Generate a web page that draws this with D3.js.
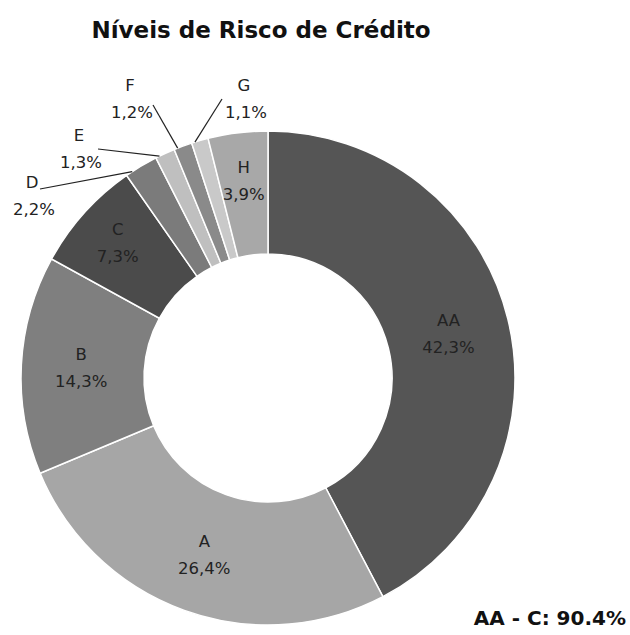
<!DOCTYPE html>
<html>
<head>
<meta charset="utf-8">
<script src="https://cdn.jsdelivr.net/npm/d3@7"></script>
<style>
  body { margin: 0; background: #fff; }
</style>
</head>
<body>
<script>
// Data.
const categories = ["AA", "A", "B", "C", "D", "E", "F", "G", "H"];
const shares = [42.3, 26.4, 14.3, 7.3, 2.2, 1.3, 1.2, 1.1, 3.9];
const sliceColors = ["#555555", "#a6a6a6", "#7f7f7f", "#4b4b4b", "#7b7b7b", "#bfbfbf", "#8a8a8a", "#c9c9c9", "#a8a8a8"];
const title = "Níveis de Risco de Crédito";
const footnote = "AA - C: 90.4%";

const width = 630;
const height = 635;
const cx = 268;
const cy = 378;
const innerRadius = 124;
const outerRadius = 247;

// Small slices get their labels outside with a leader line.
// label = centre of the first text line, lead = where the leader starts (both relative to the centre).
const callouts = {
  D: { label: [-236, -196], lead: [-228, -189] },
  E: { label: [-189, -243], lead: [-170, -229] },
  F: { label: [-138, -293], lead: [-115, -273] },
  G: { label: [-24, -293], lead: [-46, -279] },
};
// Radius of the inside labels (narrow slices sit a bit further out).
const labelRadius = { AA: 186, A: 188, B: 187, C: 202, H: 199 };

const fmt = (v) => d3.format(".1f")(v).replace(".", ",") + "%";

const svg = d3
  .select("body")
  .append("svg")
  .attr("width", width)
  .attr("height", height)
  .attr("viewBox", [0, 0, width, height]);

svg
  .append("text")
  .attr("x", 261)
  .attr("y", 38)
  .attr("text-anchor", "middle")
  .attr("font-family", "'DejaVu Sans', sans-serif")
  .attr("font-weight", "bold")
  .attr("font-size", 23)
  .attr("fill", "#111")
  .text(title);

const data = categories.map((c, i) => ({ cat: c, value: shares[i], color: sliceColors[i] }));

const pie = d3.pie().sort(null).value((d) => d.value);
const arcs = pie(data);

const arc = d3.arc().innerRadius(innerRadius).outerRadius(outerRadius);

const g = svg.append("g").attr("transform", `translate(${cx},${cy})`);

g.selectAll("path.slice")
  .data(arcs)
  .join("path")
  .attr("class", "slice")
  .attr("d", arc)
  .attr("fill", (d) => d.data.color)
  .attr("stroke", "#fff")
  .attr("stroke-width", 1.5);

const labelFont = "'DejaVu Sans', Verdana, sans-serif";
const lineGap = 27;

// Inside labels
arcs
  .filter((d) => !callouts[d.data.cat])
  .forEach((d) => {
    const r = labelRadius[d.data.cat] || 187;
    const a = (d.startAngle + d.endAngle) / 2;
    const x = r * Math.sin(a);
    const y = -r * Math.cos(a);
    const t = g
      .append("text")
      .attr("text-anchor", "middle")
      .attr("font-family", labelFont)
      .attr("font-size", 16.5)
      .attr("fill", "#222");
    t.append("tspan").attr("x", x).attr("y", y - lineGap / 2).attr("dy", "0.35em").text(d.data.cat);
    t.append("tspan").attr("x", x).attr("y", y + lineGap / 2).attr("dy", "0.35em").text(fmt(d.data.value));
  });

// Outside labels with leader lines
arcs
  .filter((d) => callouts[d.data.cat])
  .forEach((d) => {
    const c = callouts[d.data.cat];
    const a = d.startAngle + 0.2 * (d.endAngle - d.startAngle);
    const ex = outerRadius * Math.sin(a);
    const ey = -outerRadius * Math.cos(a);
    g.append("line")
      .attr("x1", c.lead[0])
      .attr("y1", c.lead[1])
      .attr("x2", ex)
      .attr("y2", ey)
      .attr("stroke", "#222")
      .attr("stroke-width", 1.2);
    const t = g
      .append("text")
      .attr("text-anchor", "middle")
      .attr("font-family", labelFont)
      .attr("font-size", 16.5)
      .attr("fill", "#222");
    t.append("tspan").attr("x", c.label[0]).attr("y", c.label[1]).attr("dy", "0.35em").text(d.data.cat);
    t.append("tspan").attr("x", c.label[0] + 2).attr("y", c.label[1] + lineGap).attr("dy", "0.35em").text(fmt(d.data.value));
  });

svg
  .append("text")
  .attr("x", 626)
  .attr("y", 625)
  .attr("text-anchor", "end")
  .attr("font-family", "'DejaVu Sans', sans-serif")
  .attr("font-weight", "bold")
  .attr("font-size", 20)
  .attr("fill", "#111")
  .text(footnote);
</script>
</body>
</html>
